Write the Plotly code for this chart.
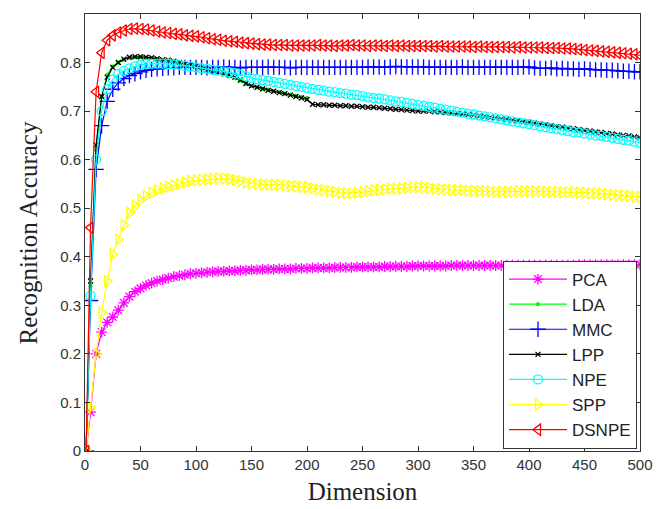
import plotly.graph_objects as go

DIMS = [1] + list(range(5, 501, 5))

PCA = [0.0,
       0.08, 0.20, 0.245, 0.265, 0.276, 0.29, 0.305, 0.318, 0.328, 0.335,
       0.341, 0.346, 0.35, 0.353, 0.356, 0.359, 0.361, 0.363, 0.365, 0.366,
       0.367, 0.368, 0.369, 0.37, 0.37, 0.371, 0.371, 0.372, 0.372, 0.373,
       0.373, 0.374, 0.374, 0.374, 0.375, 0.375, 0.375, 0.376, 0.376, 0.376,
       0.377, 0.377, 0.377, 0.377, 0.378, 0.378, 0.378, 0.378, 0.379, 0.379,
       0.379, 0.379, 0.379, 0.38, 0.38, 0.38, 0.38, 0.38, 0.381, 0.381,
       0.381, 0.381, 0.381, 0.381, 0.381, 0.382, 0.382, 0.382, 0.382, 0.382,
       0.382, 0.382, 0.382, 0.382, 0.382, 0.383, 0.383, 0.383, 0.383, 0.383,
       0.383, 0.383, 0.383, 0.383, 0.383, 0.383, 0.383, 0.383, 0.384, 0.384,
       0.384, 0.384, 0.384, 0.384, 0.384, 0.384, 0.384, 0.384, 0.384, 0.384]

LDA = [0.0,
       0.34, 0.62, 0.73, 0.775, 0.792, 0.80, 0.806, 0.81, 0.811, 0.811,
       0.81, 0.809, 0.807, 0.805, 0.804, 0.802, 0.80, 0.797, 0.794, 0.791,
       0.788, 0.785, 0.782, 0.779, 0.776, 0.772, 0.768, 0.763, 0.757, 0.752,
       0.749, 0.746, 0.744, 0.741, 0.739, 0.736, 0.734, 0.731, 0.729, 0.727]

MMC = [0.0,
       0.31, 0.58, 0.67, 0.72, 0.745, 0.758, 0.767, 0.773, 0.777, 0.781,
       0.784, 0.786, 0.787, 0.788, 0.789, 0.789, 0.79, 0.79, 0.79, 0.79,
       0.79, 0.789, 0.79, 0.79, 0.791, 0.79, 0.79, 0.789, 0.79, 0.79,
       0.79, 0.79, 0.791, 0.79, 0.79, 0.79, 0.789, 0.79, 0.79, 0.79,
       0.79, 0.79, 0.79, 0.79, 0.79, 0.79, 0.79, 0.79, 0.79, 0.79,
       0.791, 0.791, 0.791, 0.79, 0.791, 0.792, 0.791, 0.791, 0.791, 0.791,
       0.791, 0.79, 0.79, 0.79, 0.79, 0.79, 0.79, 0.791, 0.79, 0.79,
       0.79, 0.79, 0.79, 0.79, 0.79, 0.79, 0.79, 0.79, 0.791, 0.791,
       0.789, 0.788, 0.788, 0.789, 0.787, 0.788, 0.787, 0.787, 0.786, 0.787,
       0.786, 0.785, 0.785, 0.784, 0.784, 0.783, 0.782, 0.782, 0.781, 0.781]

LPP = [0.0,
       0.35, 0.63, 0.73, 0.77, 0.79, 0.80, 0.807, 0.811, 0.812, 0.812,
       0.811, 0.81, 0.808, 0.806, 0.805, 0.803, 0.80, 0.797, 0.795, 0.792,
       0.789, 0.786, 0.783, 0.78, 0.777, 0.774, 0.77, 0.764, 0.757, 0.752,
       0.749, 0.746, 0.743, 0.741, 0.738, 0.736, 0.733, 0.73, 0.727, 0.724,
       0.714, 0.713, 0.713, 0.712, 0.712, 0.711, 0.711, 0.71, 0.71, 0.709,
       0.708, 0.708, 0.707, 0.706, 0.705, 0.704, 0.703, 0.702, 0.701, 0.70,
       0.70, 0.70, 0.699, 0.698, 0.697, 0.696, 0.695, 0.694, 0.693, 0.692,
       0.69, 0.689, 0.687, 0.686, 0.684, 0.683, 0.681, 0.68, 0.678, 0.677,
       0.675, 0.673, 0.672, 0.67, 0.668, 0.667, 0.665, 0.664, 0.662, 0.66,
       0.659, 0.657, 0.656, 0.654, 0.653, 0.651, 0.65, 0.649, 0.647, 0.645]

NPE = [0.0,
       0.32, 0.60, 0.70, 0.745, 0.765, 0.776, 0.783, 0.788, 0.792, 0.795,
       0.797, 0.798, 0.798, 0.798, 0.797, 0.796, 0.795, 0.793, 0.792, 0.79,
       0.788, 0.787, 0.785, 0.784, 0.782, 0.78, 0.778, 0.775, 0.772, 0.768,
       0.766, 0.764, 0.762, 0.76, 0.758, 0.756, 0.754, 0.752, 0.75, 0.748,
       0.746, 0.744, 0.742, 0.74, 0.739, 0.737, 0.736, 0.734, 0.733, 0.731,
       0.729, 0.727, 0.726, 0.724, 0.722, 0.72, 0.719, 0.717, 0.715, 0.713,
       0.711, 0.709, 0.707, 0.705, 0.703, 0.701, 0.699, 0.697, 0.695, 0.693,
       0.691, 0.689, 0.687, 0.685, 0.683, 0.681, 0.679, 0.677, 0.675, 0.673,
       0.671, 0.669, 0.667, 0.665, 0.663, 0.661, 0.659, 0.657, 0.656, 0.654,
       0.652, 0.65, 0.649, 0.647, 0.645, 0.643, 0.641, 0.639, 0.637, 0.635]

SPP = [0.0,
       0.09, 0.20, 0.285, 0.35, 0.405, 0.435, 0.465, 0.49, 0.505, 0.517,
       0.525, 0.532, 0.537, 0.541, 0.544, 0.547, 0.55, 0.553, 0.556, 0.557,
       0.558, 0.559, 0.56, 0.561, 0.561, 0.56, 0.558, 0.556, 0.553, 0.551,
       0.55, 0.549, 0.549, 0.548, 0.548, 0.547, 0.546, 0.545, 0.544, 0.543,
       0.541, 0.539, 0.537, 0.535, 0.534, 0.532, 0.531, 0.531, 0.532, 0.533,
       0.535, 0.537, 0.538, 0.539, 0.54, 0.54, 0.541, 0.542, 0.543, 0.544,
       0.543, 0.542, 0.54, 0.539, 0.538, 0.538, 0.537, 0.537, 0.536, 0.536,
       0.535, 0.535, 0.535, 0.534, 0.534, 0.534, 0.534, 0.535, 0.535, 0.535,
       0.535, 0.535, 0.534, 0.534, 0.534, 0.533, 0.533, 0.533, 0.532, 0.532,
       0.531, 0.531, 0.53, 0.529, 0.528, 0.527, 0.526, 0.525, 0.524, 0.523]

DSNPE = [0.0,
         0.46, 0.74, 0.82, 0.846, 0.856, 0.862, 0.866, 0.869, 0.87, 0.869,
         0.868, 0.866, 0.864, 0.862, 0.861, 0.859, 0.858, 0.856, 0.855, 0.854,
         0.852, 0.85, 0.848, 0.847, 0.845, 0.844, 0.843, 0.841, 0.84, 0.839,
         0.838, 0.837, 0.837, 0.836, 0.836, 0.836, 0.835, 0.835, 0.835, 0.835,
         0.835, 0.836, 0.835, 0.835, 0.834, 0.835, 0.835, 0.836, 0.835, 0.835,
         0.834, 0.835, 0.835, 0.834, 0.835, 0.834, 0.835, 0.834, 0.834, 0.834,
         0.834, 0.834, 0.833, 0.834, 0.833, 0.833, 0.833, 0.833, 0.833, 0.832,
         0.833, 0.832, 0.832, 0.832, 0.832, 0.832, 0.831, 0.832, 0.831, 0.831,
         0.831, 0.831, 0.83, 0.83, 0.83, 0.829, 0.829, 0.828, 0.827, 0.826,
         0.825, 0.824, 0.823, 0.822, 0.821, 0.82, 0.819, 0.818, 0.817, 0.815]

X_TICKS = [0, 50, 100, 150, 200, 250, 300, 350, 400, 450, 500]
Y_TICKS = [0, 0.1, 0.2, 0.3, 0.4, 0.5, 0.6, 0.7, 0.8, 0.9]
Y_TICK_TEXT = ["0", "0.1", "0.2", "0.3", "0.4", "0.5", "0.6", "0.7", "0.8", "0.9"]

series = [
    ("PCA", PCA, "#FF00FF", "asterisk-open", 9),
    ("LDA", LDA, "#00FF00", "circle", 3),
    ("MMC", MMC, "#0000FF", "cross-thin-open", 11),
    ("LPP", LPP, "#000000", "x-thin-open", 5),
    ("NPE", NPE, "#00FFFF", "circle-open", 9),
    ("SPP", SPP, "#FFFF00", "triangle-right-open", 10),
    ("DSNPE", DSNPE, "#FF0000", "triangle-left-open", 10),
]

fig = go.Figure()
for name, vals, color, sym, size in series:
    fig.add_trace(go.Scatter(
        x=DIMS[:len(vals)], y=vals, name=name, mode="lines+markers",
        line=dict(color=color, width=1.2),
        marker=dict(symbol=sym, size=size, color=color,
                    line=dict(color=color, width=1.3)),
    ))

axis_common = dict(showline=True, linecolor="#333333", linewidth=1, mirror="ticks",
                   ticks="inside", ticklen=5, tickcolor="#333333", showgrid=False,
                   zeroline=False, automargin=False,
                   tickfont=dict(family="Liberation Sans, Arial", size=15, color="#333333"))

title_font = dict(family="Liberation Serif, Times New Roman", size=25, color="#222222")

fig.update_xaxes(range=[0, 500], tickvals=X_TICKS, **axis_common,
                 title=dict(text="Dimension", font=title_font, standoff=10))
fig.update_yaxes(range=[0, 0.9], tickvals=Y_TICKS, ticktext=Y_TICK_TEXT, **axis_common)

fig.add_annotation(text="Recognition Accuracy", textangle=-90, font=title_font,
                   xref="paper", yref="paper", x=-0.101, y=0.5,
                   xanchor="center", yanchor="middle", showarrow=False)

# The page body adds an 8px margin, so the figure is sized to fit the 670x509 window.
fig.update_layout(
    width=662, height=501,
    margin=dict(l=77, r=30, t=6, b=58),
    plot_bgcolor="white", paper_bgcolor="white",
    legend=dict(x=0.9946, y=0.2208, xanchor="right", yanchor="middle",
                bgcolor="white", bordercolor="#333333", borderwidth=1,
                font=dict(family="Liberation Sans, Arial", size=17, color="#222222"),
                tracegroupgap=0, itemwidth=58),
    showlegend=True,
)

fig.write_html("out.html")
